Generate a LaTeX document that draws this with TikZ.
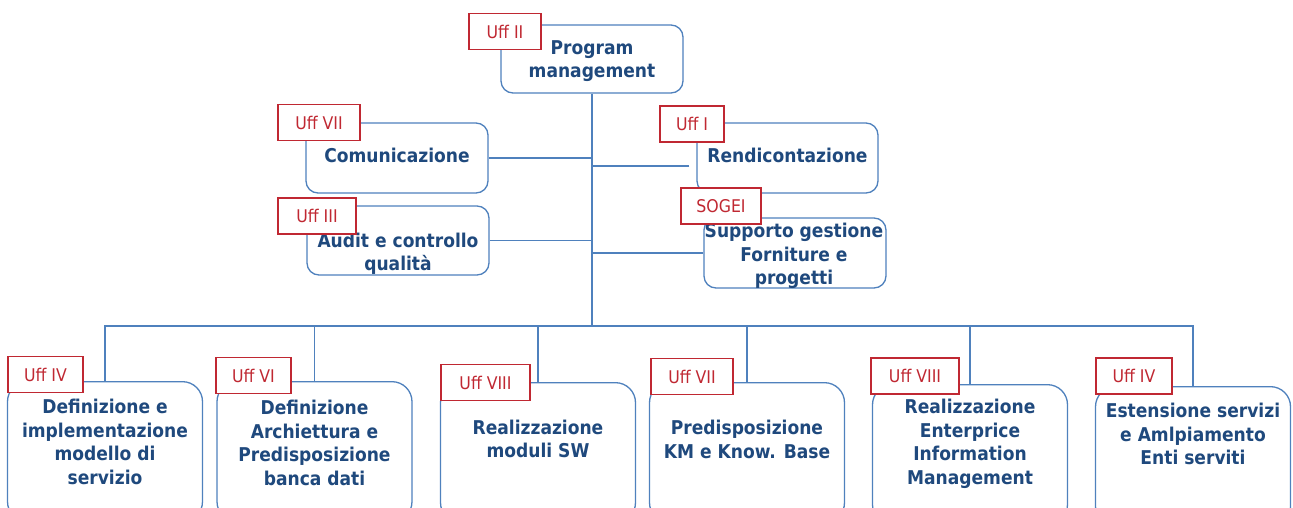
\documentclass[tikz,border=0pt]{standalone}
\usepackage{fontspec}
\newfontfamily\unitfont{DejaVu Sans Condensed Bold}
\newfontfamily\officefont{DejaVu Sans Condensed}
\definecolor{boxblue}{RGB}{79,129,189}
\definecolor{txtblue}{RGB}{31,73,125}
\definecolor{tagred}{RGB}{192,40,50}
\tikzset{
  x = 1pt,
  y = -1pt, % work in pixel rows, top down
  unit/.style = { % rounded box of a unit
    draw = boxblue,
    line width = 1.3pt,
    rounded corners = #1,
    fill = white,
    inner sep = 0pt,
  },
  unit/.default = 12pt,
  lbl/.style = { % blue bold text of a unit
    text = txtblue,
    font = \unitfont\fontsize{19}{23.5}\selectfont,
    align = center,
    inner sep = 0pt,
  },
  office/.style = { % red tag with the office
    draw = tagred,
    line width = 1.3pt,
    fill = white,
    text = tagred,
    font = \officefont\fontsize{17.5}{20}\selectfont,
    minimum width = #1,
    minimum height = 36pt,
    inner sep = 0pt,
  },
  link/.style = { % connector line
    draw = boxblue,
    line width = 1.3pt,
  },
}
\begin{document}
\begin{tikzpicture}
    \useasboundingbox (0,0) rectangle (1293,508);
    \clip (0,0) rectangle (1293,508); % bottom boxes run off the page
    % top unit
    \node[unit, minimum width=182pt, minimum height=68pt] (pm) at (592,59) {};
    \node[lbl] (pmtxt) at (592,61) {Program\\management};
    % side units
    \node[unit, minimum width=182pt, minimum height=70pt] (com) at (397,158) {};
    \node[lbl] (comtxt) at (397,155) {Comunicazione};
    \node[unit, minimum width=182pt, minimum height=69pt] (aud) at (398,240.5) {};
    \node[lbl] (audtxt) at (398,254) {Audit e controllo\\qualit\`a};
    \node[unit, minimum width=181pt, minimum height=70pt] (ren) at (787.5,158) {};
    \node[lbl] (rentxt) at (787.5,155) {Rendicontazione};
    \node[unit, minimum width=182pt, minimum height=70pt] (sup) at (795,253) {};
    \node[lbl] (suptxt) at (794,256) {Supporto gestione\\Forniture e\\progetti};
    \coordinate (bus) at (592,326); % where the trunk meets the bottom bus
    \draw[link] (pm.south) -- (bus); % trunk
    \draw[link] (com.east) -- (com.east -| pm.south);
    \draw[link] (aud.east) -- (aud.east -| pm.south);
    \draw[link] ([shift={(-7pt,-8pt)}]ren.west) -- ([yshift=-8pt]ren.west -| pm.south);
    \draw[link] (sup.west) -- (sup.west -| pm.south);
    % bottom units
    \foreach \i/\x/\top/\ty/\tagx/\tagy/\tagw/\tag/\txt in {
      1/105/381/442/45.5/374.5/75/{Uff IV}/{Definizione e\\implementazione\\modello di\\servizio},
      2/314.5/381/443/253.5/375.5/75/{Uff VI}/{Definizione\\Archiettura e\\Predisposizione\\banca dati},
      3/538/382/439/485.5/382.5/89/{Uff VIII}/{Realizzazione\\moduli SW},
      4/747/382/439.5/692/376.5/82/{Uff VII}/{Predisposizione\\KM e Know. Base},
      5/970/384/444/915/376/88/{Uff VIII}/{Realizzazione\\Enterprice\\Information\\Management},
      6/1193/386/434/1134/376/76/{Uff IV}/{Estensione servizi\\e Amlpiamento\\Enti serviti}}{
      \node[unit=20pt, anchor=north, minimum width=195pt, minimum height=140pt] (b\i) at (\x,\top) {};
      \node[lbl] (b\i txt) at (\x,\ty) {\txt};
      \draw[link] (bus) -| (b\i.north); % bus and drop
      \node[office=\tagw pt] (o\i) at (\tagx,\tagy) {\tag};
    } % end loop
    % office tags of the upper units
    \node[office=72pt] (opm) at (505,31.5) {Uff II};
    \node[office=82pt] (ocom) at (319,122.5) {Uff VII};
    \node[office=78pt] (oaud) at (317,216) {Uff III};
    \node[office=64pt] (oren) at (692,124) {Uff I};
    \node[office=80pt] (osup) at (721,206) {SOGEI};
\end{tikzpicture}
\end{document}
